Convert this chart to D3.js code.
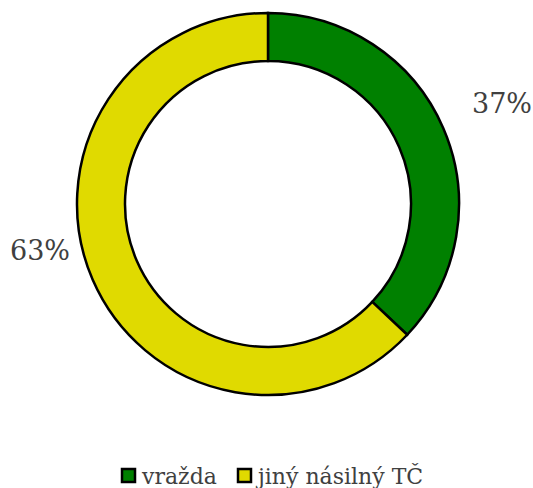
<!DOCTYPE html>
<html>
<head>
<meta charset="utf-8">
<script src="https://d3js.org/d3.v7.min.js"></script>
<style>
  body { margin: 0; background: #fff; }
</style>
</head>
<body>
<script>
var categories = ["vražda", "jiný násilný TČ"];
var values = [37, 63];
var labels = ["37%", "63%"];
var colors = ["#008000", "#e0da00"];

var width = 533, height = 488;
var cx = 268, cy = 204, outerR = 191, innerR = 143;
var font = "'DejaVu Serif', serif";

var svg = d3.select("body").append("svg")
  .attr("width", width)
  .attr("height", height);

var pie = d3.pie().sort(null).value(function(d) { return d; });
var arc = d3.arc().innerRadius(innerR).outerRadius(outerR);

var g = svg.append("g").attr("transform", "translate(" + cx + "," + cy + ")");

g.selectAll("path").data(pie(values)).enter().append("path")
  .attr("d", arc)
  .attr("fill", function(d, i) { return colors[i]; })
  .attr("stroke", "#000")
  .attr("stroke-width", 2.5);

// popisky mimo prstenec
var labelPos = [[502, 113], [40, 260]];
svg.selectAll(".lbl").data(labels).enter().append("text")
  .attr("class", "lbl")
  .attr("x", function(d, i) { return labelPos[i][0]; })
  .attr("y", function(d, i) { return labelPos[i][1]; })
  .attr("text-anchor", "middle")
  .style("font-family", font)
  .style("font-size", "27px")
  .style("fill", "#404040")
  .text(function(d) { return d; });

// legenda
var legendX = [122, 238];
var leg = svg.selectAll(".leg").data(categories).enter().append("g")
  .attr("class", "leg")
  .attr("transform", function(d, i) { return "translate(" + legendX[i] + ",469)"; });
leg.append("rect")
  .attr("width", 13).attr("height", 13)
  .attr("fill", function(d, i) { return colors[i]; })
  .attr("stroke", "#000").attr("stroke-width", 2.5);
leg.append("text")
  .attr("x", 20).attr("y", 15)
  .style("font-family", font)
  .style("font-size", "22px")
  .style("fill", "#404040")
  .text(function(d) { return d; });
</script>
</body>
</html>
